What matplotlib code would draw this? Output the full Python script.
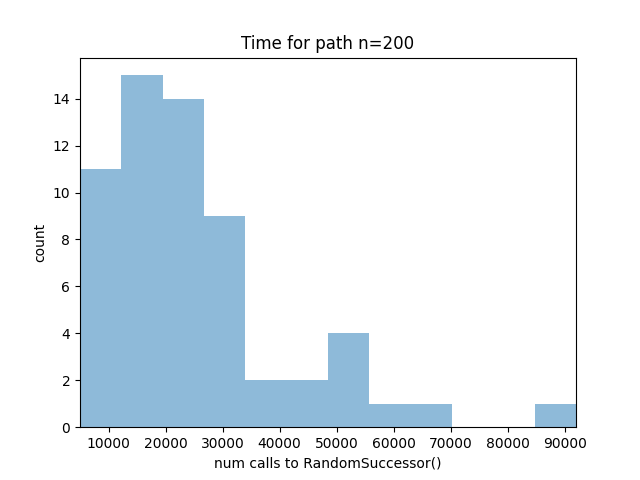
import numpy as np
import matplotlib
matplotlib.use("Agg")
import matplotlib.pyplot as plt

# bin edges and counts
bin_edges = [5000, 12250, 19500, 26750, 34000, 41250, 48500,
             55750, 63000, 70250, 77500, 84750, 92000]
counts = [11, 15, 14, 9, 2, 2, 4, 1, 1, 0, 0, 1]

fig, ax = plt.subplots(figsize=(6.4, 4.8), dpi=100)
ax.hist(bin_edges[:-1], bins=bin_edges, weights=counts, alpha=0.5)
ax.set_xlim(bin_edges[0], bin_edges[-1])
ax.set_title("Time for path n=200")
ax.set_xlabel("num calls to RandomSuccessor()")
ax.set_ylabel("count")

fig.savefig("out.png")
